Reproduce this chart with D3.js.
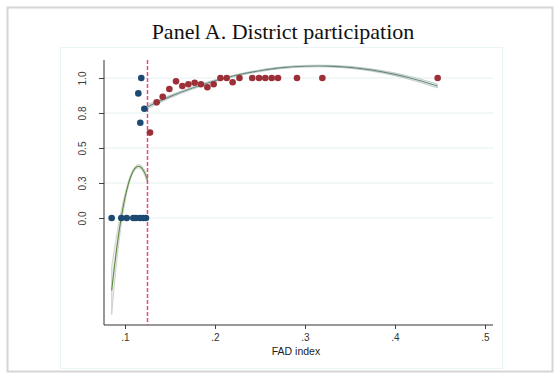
<!DOCTYPE html>
<html>
<head>
<meta charset="utf-8">
<script src="https://cdn.jsdelivr.net/npm/d3@7"></script>
<style>
    body { margin: 0; background: #fff; }
    svg { display: block; }
</style>
</head>
<body>
<svg id="chart"></svg>
<script>
// cutoff of the FAD index
const cutoff = 0.125;

// districts below the cutoff
const blueX = [0.0852, 0.0959, 0.1019, 0.1092, 0.1122, 0.1167, 0.1203, 0.1233, 0.1181, 0.1148, 0.1215, 0.1170];
const blueY = [0, 0, 0, 0, 0, 0, 0, 0, 1.0, 0.89, 0.78, 0.68];

// districts above the cutoff
const redX = [0.1278, 0.1352, 0.1419, 0.1493, 0.1567, 0.1637, 0.1704, 0.1774, 0.1844, 0.1915, 0.1985,
    0.2060, 0.2130, 0.2196, 0.2272, 0.2414, 0.2489, 0.2559, 0.2630, 0.2700, 0.2911, 0.3193, 0.4474];
const redY = [0.61, 0.826, 0.866, 0.921, 0.976, 0.943, 0.955, 0.966, 0.955, 0.934, 0.955,
    1.0, 1.0, 0.97, 1.0, 1.0, 1.0, 1.0, 1.0, 1.0, 1.0, 1.0, 1.0];

// quadratic fit, left of cutoff (x, fit, lower, upper)
const leftFitX = [0.0852, 0.088, 0.091, 0.094, 0.097, 0.100, 0.103, 0.106, 0.109, 0.112, 0.115, 0.118, 0.121, 0.124, 0.125];
const leftFitY = [-0.518, -0.359, -0.206, -0.071, 0.046, 0.145, 0.226, 0.289, 0.334, 0.361, 0.370, 0.361, 0.334, 0.289, 0.270];
const leftFitLo = [-0.690, -0.490, -0.300, -0.136, 0.001, 0.115, 0.206, 0.274, 0.322, 0.349, 0.358, 0.347, 0.316, 0.264, 0.242];
const leftFitHi = [-0.348, -0.229, -0.111, -0.006, 0.091, 0.175, 0.246, 0.304, 0.346, 0.373, 0.382, 0.375, 0.352, 0.314, 0.298];

// quadratic fit, right of cutoff
const rightFitX = [0.125, 0.15, 0.175, 0.2, 0.225, 0.25, 0.275, 0.3, 0.325, 0.35, 0.375, 0.4, 0.425, 0.447];
const rightFitY = [0.795, 0.867, 0.928, 0.980, 1.021, 1.052, 1.074, 1.084, 1.085, 1.076, 1.056, 1.026, 0.986, 0.943];
const rightFitLo = [0.780, 0.857, 0.920, 0.973, 1.015, 1.046, 1.068, 1.078, 1.079, 1.069, 1.048, 1.016, 0.974, 0.929];
const rightFitHi = [0.810, 0.877, 0.936, 0.987, 1.027, 1.058, 1.080, 1.090, 1.091, 1.083, 1.064, 1.036, 0.998, 0.957];

const xTicks = [0.1, 0.2, 0.3, 0.4, 0.5];
const xTickLabels = ['.1', '.2', '.3', '.4', '.5'];
const yTicks = [0, 0.25, 0.5, 0.75, 1.0];
const yTickLabels = ['0.0', '0.3', '0.5', '0.8', '1.0'];

const width = 560;
const height = 377;
const plot = { left: 104, right: 493, top: 60, bottom: 325 };

const svg = d3.select('#chart')
    .attr('width', width)
    .attr('height', height);

// outer frame
svg.append('rect')
    .attr('x', 7.5).attr('y', 7.5)
    .attr('width', 545).attr('height', 364)
    .attr('fill', '#fff')
    .attr('stroke', '#d6d6d6')
    .attr('stroke-width', 2);

// inner plot region
svg.append('rect')
    .attr('x', 60.5).attr('y', 47.5)
    .attr('width', 442).attr('height', 321)
    .attr('fill', 'none')
    .attr('stroke', '#eaf3f5')
    .attr('stroke-width', 1);

svg.append('text')
    .attr('x', 283)
    .attr('y', 39)
    .attr('text-anchor', 'middle')
    .style('font-family', '"Liberation Serif", "DejaVu Serif", serif')
    .style('font-size', '22px')
    .attr('fill', '#111')
    .text('Panel A. District participation');

const x = d3.scaleLinear()
    .domain([0.1, 0.5])
    .range([125, 485]);

const y = d3.scaleLinear()
    .domain([0, 1])
    .range([218, 78]);

// gridlines
svg.append('g')
    .attr('class', 'grid')
    .selectAll('line')
    .data(yTicks)
    .enter()
    .append('line')
        .attr('x1', plot.left)
        .attr('x2', plot.right)
        .attr('y1', d => y(d))
        .attr('y2', d => y(d))
        .attr('stroke', '#e4eef1')
        .attr('stroke-width', 1);

// y axis
const yAxis = svg.append('g')
    .attr('transform', `translate(${plot.left},0)`)
    .call(d3.axisLeft(y)
        .tickValues(yTicks)
        .tickFormat((d, i) => yTickLabels[i])
        .tickSize(5)
        .tickSizeOuter(0));
yAxis.select('.domain').remove();
yAxis.append('line')
    .attr('y1', plot.top).attr('y2', plot.bottom)
    .attr('stroke', '#333');
yAxis.selectAll('.tick line').attr('stroke', '#444');
yAxis.selectAll('.tick text')
    .attr('x', null)
    .attr('text-anchor', 'middle')
    .attr('transform', 'translate(-22,0) rotate(-90)')
    .attr('y', 0)
    .attr('dy', '0.35em')
    .attr('fill', '#3a3a3a')
    .style('font-family', '"Liberation Sans", Arial, sans-serif')
    .style('font-size', '10px');

// x axis
const xAxis = svg.append('g')
    .attr('transform', `translate(0,${plot.bottom})`)
    .call(d3.axisBottom(x)
        .tickValues(xTicks)
        .tickFormat((d, i) => xTickLabels[i])
        .tickSize(4)
        .tickSizeOuter(0));
xAxis.select('.domain').remove();
xAxis.append('line')
    .attr('x1', plot.left).attr('x2', plot.right)
    .attr('stroke', '#333');
xAxis.selectAll('.tick line').attr('stroke', '#444');
xAxis.selectAll('.tick text')
    .attr('y', 9)
    .attr('fill', '#333')
    .style('font-family', '"Liberation Sans", Arial, sans-serif')
    .style('font-size', '10px');

svg.append('text')
    .attr('x', 296)
    .attr('y', 355)
    .attr('text-anchor', 'middle')
    .attr('fill', '#222')
    .style('font-family', '"Liberation Sans", Arial, sans-serif')
    .style('font-size', '10.5px')
    .text('FAD index');

// fits with confidence bands
function drawFit(xs, ys, lo, hi, lineColor, bandColor, edgeColor) {
    const rows = xs.map((d, i) => ({ x: d, y: ys[i], lo: lo[i], hi: hi[i] }));
    svg.append('path')
        .datum(rows)
        .attr('d', d3.area()
            .x(d => x(d.x))
            .y0(d => y(d.lo))
            .y1(d => y(d.hi))
            .curve(d3.curveCatmullRom))
        .attr('fill', bandColor)
        .attr('stroke', edgeColor)
        .attr('stroke-width', 0.8);
    svg.append('path')
        .datum(rows)
        .attr('d', d3.line()
            .x(d => x(d.x))
            .y(d => y(d.y))
            .curve(d3.curveCatmullRom))
        .attr('fill', 'none')
        .attr('stroke', lineColor)
        .attr('stroke-width', 1.1);
}

drawFit(leftFitX, leftFitY, leftFitLo, leftFitHi, '#5d8a3c', '#eceeec', '#c4c8c5');
drawFit(rightFitX, rightFitY, rightFitLo, rightFitHi, '#6a8a80', '#e8eeec', '#b3c1bc');

// cutoff
svg.append('line')
    .attr('x1', x(cutoff)).attr('x2', x(cutoff))
    .attr('y1', plot.top).attr('y2', plot.bottom)
    .attr('stroke', '#e8487f')
    .attr('stroke-width', 1.5)
    .attr('stroke-dasharray', '4,2');

// points
svg.append('g')
    .selectAll('circle')
    .data(blueX.map((d, i) => [d, blueY[i]]))
    .enter()
    .append('circle')
        .attr('cx', d => x(d[0]))
        .attr('cy', d => y(d[1]))
        .attr('r', 3.3)
        .attr('fill', '#1d4a73');

svg.append('g')
    .selectAll('circle')
    .data(redX.map((d, i) => [d, redY[i]]))
    .enter()
    .append('circle')
        .attr('cx', d => x(d[0]))
        .attr('cy', d => y(d[1]))
        .attr('r', 3.3)
        .attr('fill', '#9c3039');
</script>
</body>
</html>
